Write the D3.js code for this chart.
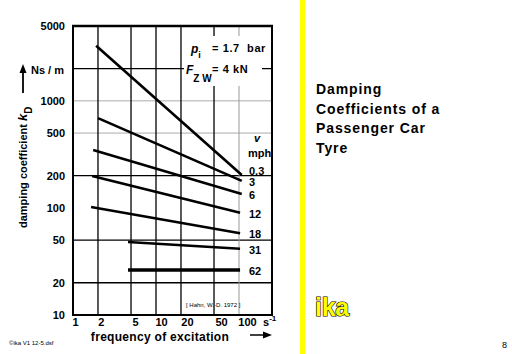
<!DOCTYPE html>
<html>
<head>
<meta charset="utf-8">
<script src="https://cdn.jsdelivr.net/npm/d3@7"></script>
<style>
  body { margin: 0; background: #fff; }
  svg { display: block; font-family: "Liberation Sans", Arial, sans-serif; }
  .tick-lbl { font-size: 11px; font-weight: bold; }
</style>
</head>
<body>
<div class="canvas"></div>
<script>
// data
const speeds = ['0.3', '3', '6', '12', '18', '31', '62'];
const freqStart = [1.9, 2.0, 1.75, 1.7, 1.65, 4.6, 4.6];
const freqEnd = [108, 108, 108, 103, 103, 103, 103];
const kdStart = [3270, 690, 348, 199, 102, 48, 26.3];
const kdEnd = [203, 179, 135, 90, 58, 41.5, 26.3];

// tick labels
const yTicks = [5000, 1000, 500, 200, 100, 50, 20, 10];
const xTicks = [1, 2, 5, 10, 20, 50, 100];
const yGridBlack = [2000, 200, 50, 20];
const yGridGray = [1000, 500];
const xGridBlack = [2, 5, 10, 20, 50];
const xGridGray = [100];

const svg = d3.select('.canvas')
    .append('svg')
    .attr('width', 512)
    .attr('height', 354);

// plot box
const box = { left: 73, right: 272, top: 26, bottom: 315 };

const x = d3.scaleLog().domain([1, 100]).range([73, 239]);
// labels sit a little right of the grid lines in the original
const xLbl = d3.scaleLog().domain([1, 100]).range([75, 247]);
const y = d3.scaleLog().domain([10, 5000]).range([box.bottom, box.top]);

// grid
const grid = svg.append('g');
grid.selectAll('.hb').data(yGridBlack).enter().append('line')
    .attr('x1', box.left).attr('x2', box.right)
    .attr('y1', d => y(d)).attr('y2', d => y(d))
    .attr('stroke', '#000').attr('stroke-width', 1.3);
grid.selectAll('.hg').data(yGridGray).enter().append('line')
    .attr('x1', box.left).attr('x2', box.right)
    .attr('y1', d => y(d)).attr('y2', d => y(d))
    .attr('stroke', '#aaa').attr('stroke-width', 1);
grid.selectAll('.vb').data(xGridBlack).enter().append('line')
    .attr('x1', d => x(d)).attr('x2', d => x(d))
    .attr('y1', box.top).attr('y2', box.bottom)
    .attr('stroke', '#000').attr('stroke-width', 1.3);
grid.selectAll('.vg').data(xGridGray).enter().append('line')
    .attr('x1', d => x(d)).attr('x2', d => x(d))
    .attr('y1', box.top).attr('y2', box.bottom)
    .attr('stroke', '#999').attr('stroke-width', 1);

// white box behind the conditions
svg.append('rect')
    .attr('x', 184).attr('y', 36).attr('width', 78).attr('height', 50)
    .attr('fill', '#fff');

// frame
svg.append('rect')
    .attr('x', box.left).attr('y', box.top)
    .attr('width', box.right - box.left).attr('height', box.bottom - box.top)
    .attr('fill', 'none').attr('stroke', '#000').attr('stroke-width', 2);
svg.append('line')
    .attr('x1', box.left - 1).attr('x2', box.right + 1)
    .attr('y1', box.top).attr('y2', box.top)
    .attr('stroke', '#000').attr('stroke-width', 2.6);

// curves
const line = d3.line().x(d => x(d[0])).y(d => y(d[1]));
const series = speeds.map((s, i) => ({
    name: s,
    pts: [[freqStart[i], kdStart[i]], [freqEnd[i], kdEnd[i]]]
}));
svg.append('g').selectAll('path').data(series).enter().append('path')
    .attr('d', d => line(d.pts))
    .attr('fill', 'none')
    .attr('stroke', '#000')
    .attr('stroke-width', d => d.name === '62' ? 3.4 : 2.6);

// speed labels
svg.append('g').selectAll('text').data(series).enter().append('text')
    .attr('class', 'tick-lbl')
    .attr('x', 249)
    .attr('y', (d, i) => y(kdEnd[i]) + (i === 0 ? 0 : 5))
    .text(d => d.name);
svg.append('text').attr('class', 'tick-lbl')
    .attr('x', 254).attr('y', 142)
    .style('font-style', 'italic').text('v');
svg.append('text').attr('class', 'tick-lbl')
    .attr('x', 248).attr('y', 157).text('mph');

// y axis
const yAxis = d3.axisLeft(y).tickValues(yTicks).tickSize(0).tickPadding(0)
    .tickFormat(d3.format('d'));
const ya = svg.append('g').attr('transform', 'translate(65,0)').call(yAxis);
ya.select('.domain').remove();
ya.attr('font-family', null).attr('font-size', null);
ya.selectAll('text').attr('class', 'tick-lbl').attr('fill', '#000');

// x axis
const xAxis = d3.axisBottom(xLbl).tickValues(xTicks).tickSize(0).tickPadding(0)
    .tickFormat(d3.format('d'));
const xa = svg.append('g').attr('transform', 'translate(0,318)').call(xAxis);
xa.select('.domain').remove();
xa.attr('font-family', null).attr('font-size', null);
xa.selectAll('text').attr('class', 'tick-lbl').attr('fill', '#000');

// s^-1 unit
const unit = svg.append('text').attr('class', 'tick-lbl').attr('x', 263).attr('y', 326);
unit.append('tspan').text('s');
unit.append('tspan').attr('dy', -5).style('font-size', '8px').text('-1');

// axis titles
svg.append('text')
    .attr('x', 160).attr('y', 341)
    .attr('text-anchor', 'middle')
    .style('font-size', '12px').style('font-weight', 'bold')
    .style('letter-spacing', '0.3px')
    .text('frequency of excitation');
svg.append('line')
    .attr('x1', 250).attr('x2', 266).attr('y1', 335).attr('y2', 335)
    .attr('stroke', '#000').attr('stroke-width', 1.5);
svg.append('path').attr('d', 'M272,335 L263,331.5 L263,338.5 Z').attr('fill', '#000');

const ylab = svg.append('text')
    .attr('transform', 'translate(27,228) rotate(-90)')
    .style('font-size', '11px').style('font-weight', 'bold');
ylab.append('tspan').text('damping coefficient ');
ylab.append('tspan').style('font-style', 'italic').style('font-size', '13px').text('k');
ylab.append('tspan').attr('dy', 5).style('font-size', '10px').text('D');

svg.append('line')
    .attr('x1', 23).attr('x2', 23).attr('y1', 93).attr('y2', 72)
    .attr('stroke', '#000').attr('stroke-width', 1.8);
svg.append('path').attr('d', 'M23,64 L19.5,73 L26.5,73 Z').attr('fill', '#000');
svg.append('text').attr('class', 'tick-lbl')
    .attr('x', 31).attr('y', 74).text('Ns / m');

// conditions
const p1 = svg.append('text').attr('class', 'tick-lbl').attr('x', 191).attr('y', 53);
p1.append('tspan').style('font-style', 'italic').style('font-size', '12px').text('p');
p1.append('tspan').attr('dy', 5).style('font-size', '9px').text('i');
p1.append('tspan').attr('x', 212).attr('y', 52).style('letter-spacing', '0.6px')
    .text('= 1.7\u00a0 bar');
const p2 = svg.append('text').attr('class', 'tick-lbl').attr('x', 186).attr('y', 74);
p2.append('tspan').style('font-style', 'italic').style('font-size', '12px').text('F');
p2.append('tspan').attr('dy', 8).style('font-size', '10px').text('Z W');
p2.append('tspan').attr('x', 212).attr('y', 73).style('letter-spacing', '0.6px')
    .text('= 4 kN');

// source notes
svg.append('text').attr('x', 186).attr('y', 307)
    .style('font-size', '6px').text('[ Hahn, W.-D. 1972 ]');
svg.append('text').attr('x', 9).attr('y', 345)
    .style('font-size', '6px').text('\u00a9ika V1 12-5.dsf');

// right side
svg.append('rect').attr('x', 300).attr('y', 0).attr('width', 5).attr('height', 354)
    .attr('fill', '#ffff00');
const title = ['Damping', 'Coefficients of a', 'Passenger Car', 'Tyre'];
svg.append('g').selectAll('text').data(title).enter().append('text')
    .attr('x', 316).attr('y', (d, i) => 94 + i * 19.5)
    .style('font-size', '14px').style('font-weight', 'bold')
    .style('letter-spacing', '0.9px')
    .text(d => d);
svg.append('text').attr('x', 315).attr('y', 316)
    .style('font-size', '25px').style('font-weight', 'bold')
    .attr('fill', '#ffff00').attr('stroke', '#000').attr('stroke-width', 1.2)
    .attr('paint-order', 'stroke')
    .style('letter-spacing', '-0.3px')
    .text('ika');
svg.append('text').attr('x', 502).attr('y', 348)
    .style('font-size', '9px').text('8');
</script>
</body>
</html>
